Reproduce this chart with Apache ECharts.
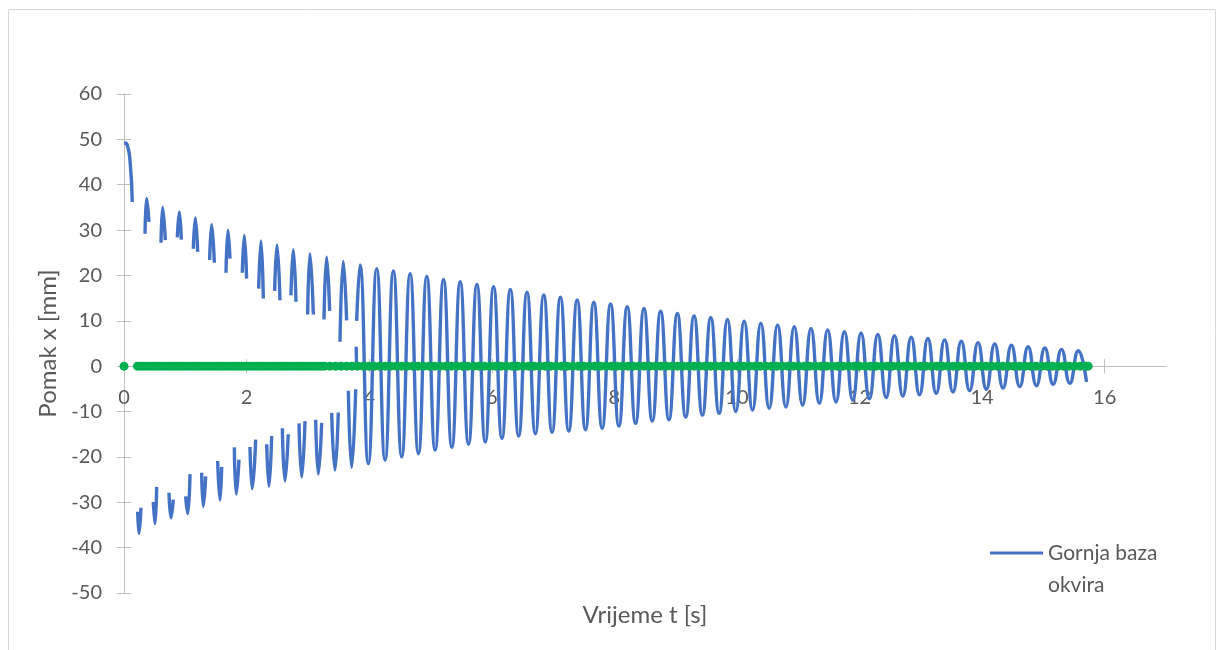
<!DOCTYPE html>
<html>
<head>
<meta charset="utf-8">
<script src="https://cdn.jsdelivr.net/npm/echarts@6/dist/echarts.min.js"></script>
<style>
html,body{margin:0;padding:0;background:#fff;}
#chart{width:1224px;height:650px;}
</style>
</head>
<body>
<div id="chart"></div>
<script>
// ---- data ----
const seriesNames = ['Gornja baza okvira', 'Donja baza okvira'];
const xTicks = [0, 2, 4, 6, 8, 10, 12, 14, 16];

// Blue series: time [s] (null value = gap in the recorded line)
const timeS = [
  0, 0.05, 0.10, 0.135, 0.18,
  0.223, 0.245, 0.277, 0.31,
  0.343, 0.370, 0.408, 0.44,
  0.478, 0.506, 0.533, 0.57,
  0.604, 0.631, 0.674, 0.70,
  0.734, 0.767, 0.804, 0.84,
  0.870, 0.903, 0.935, 0.97,
  1.006, 1.039, 1.077, 1.10,
  1.131, 1.164, 1.202, 1.23,
  1.267, 1.294, 1.333, 1.36,
  1.397, 1.430, 1.474, 1.50,
  1.528, 1.566, 1.594, 1.63,
  1.664, 1.697, 1.729, 1.76,
  1.800, 1.832, 1.876, 1.90,
  1.930, 1.963, 2.000, 2.03,
  2.055, 2.093, 2.148, 2.17,
  2.197, 2.235, 2.273, 2.30,
  2.328, 2.365, 2.409, 2.43,
  2.458, 2.496, 2.545, 2.56,
  2.583, 2.626, 2.680, 2.70,
  2.724, 2.762, 2.806, 2.83,
  2.855, 2.899, 2.953, 2.97,
  2.996, 3.034, 3.089, 3.11,
  3.127, 3.170, 3.225, 3.24,
  3.263, 3.306, 3.355, 3.37,
  3.388, 3.442, 3.496, 3.51,
  3.524, 3.578, 3.632, 3.645,
  3.660, 3.714, 3.780, 3.785,
  3.788, 3.793, 3.794,
  3.796, 3.850, 3.986, 4.123, 4.259, 4.395, 4.531, 4.668, 4.804, 4.940,
  5.076, 5.213, 5.349, 5.485, 5.621, 5.758, 5.894, 6.030, 6.166, 6.303,
  6.439, 6.575, 6.711, 6.848, 6.984, 7.120, 7.256, 7.393, 7.529, 7.665,
  7.801, 7.938, 8.074, 8.210, 8.346, 8.483, 8.619, 8.755, 8.891, 9.028,
  9.164, 9.300, 9.436, 9.573, 9.709, 9.845, 9.981, 10.118, 10.254, 10.390,
  10.526, 10.663, 10.799, 10.935, 11.071, 11.208, 11.344, 11.480, 11.616, 11.753,
  11.889, 12.025, 12.161, 12.298, 12.434, 12.570, 12.706, 12.843, 12.979, 13.115,
  13.251, 13.388, 13.524, 13.660, 13.796, 13.933, 14.069, 14.205, 14.341, 14.478,
  14.614, 14.750, 14.886, 15.023, 15.159, 15.295, 15.431, 15.568, 15.704
];
// Blue series: displacement [mm]
const pomakMM = [
  49.2, 48.9, 45.0, 36.2, null,
  -32.1, -36.9, -31.2, null,
  29.2, 37.0, 31.8, null,
  -29.9, -34.7, -26.6, null,
  27.2, 35.0, 27.8, null,
  -27.9, -33.4, -29.4, null,
  28.4, 34.0, 27.9, null,
  -28.7, -32.5, -23.8, null,
  25.9, 32.7, 25.2, null,
  -23.5, -30.9, -24.3, null,
  23.4, 31.2, 22.8, null,
  -20.9, -29.5, -22.2, null,
  20.6, 30.0, 23.7, null,
  -17.9, -28.2, -20.6, null,
  20.6, 28.8, 19.3, null,
  -17.8, -27.0, -16.2, null,
  17.1, 27.6, 14.9, null,
  -17.2, -26.5, -15.4, null,
  16.6, 26.7, 14.5, null,
  -13.7, -25.3, -15.0, null,
  15.6, 25.7, 14.2, null,
  -12.6, -24.4, -12.1, null,
  11.4, 24.8, 11.4, null,
  -11.8, -23.8, -12.5, null,
  10.3, 24.0, 12.2, null,
  -10.3, -22.9, -10.2, null,
  5.4, 23.1, 10.1, null,
  -5.4, -22.3, -5.1, null,
  4.3, 0.6, null,
  10.0, 22.3, -21.5, 21.5, -20.7, 21.0, -20.0, 20.4, -19.3, 19.8,
  -18.5, 19.1, -17.9, 18.6, -17.2, 18.0, -16.7, 17.5, -15.9, 16.9,
  -15.4, 16.3, -14.9, 15.7, -14.6, 15.2, -14.3, 14.6, -14.0, 14.1,
  -13.7, 13.7, -13.2, 13.1, -12.6, 12.7, -12.1, 12.1, -11.8, 11.6,
  -11.2, 11.1, -10.8, 10.7, -10.4, 10.3, -10.0, 9.9, -9.7, 9.5,
  -9.3, 9.1, -9.0, 8.7, -8.6, 8.3, -8.2, 8.0, -7.9, 7.6,
  -7.5, 7.3, -7.2, 7.0, -6.9, 6.7, -6.6, 6.4, -6.3, 6.1,
  -6.0, 5.8, -5.7, 5.5, -5.4, 5.2, -5.1, 4.9, -4.8, 4.6,
  -4.5, 4.3, -4.3, 4.0, -4.0, 3.7, -3.8, 3.4, -3.5
];

// Green series: sample times [s] (all values 0 mm)
const baseT = [
  0,
  0.22,0.27,0.32,0.37,0.42,0.47,0.52,0.57,0.62,0.67,0.72,0.77,0.82,0.87,0.92,0.97,
  1.02,1.07,1.12,1.17,1.22,1.27,1.32,1.37,1.42,1.47,1.52,1.57,1.62,1.67,1.72,1.77,
  1.82,1.87,1.92,1.97,2.02,2.07,2.12,2.17,2.22,2.27,2.32,2.37,2.42,2.47,2.52,2.57,
  2.62,2.67,2.72,2.77,2.82,2.87,2.92,2.97,3.02,3.07,3.12,3.17,3.22,3.27,
  3.36,3.45,3.54,3.63,3.72,3.81,3.90,3.99,4.08,4.17,4.26,4.35,4.44,4.53,4.62,4.71,
  4.80,4.89,4.98,5.07,5.16,5.25,5.34,5.43,5.52,5.61,5.70,5.79,5.88,5.97,6.06,6.15,
  6.24,6.33,6.42,6.51,6.60,6.69,6.78,6.87,6.96,7.05,7.14,7.23,7.32,7.41,7.50,7.59,
  7.68,7.77,7.86,7.95,8.04,8.13,8.22,8.31,8.40,8.49,8.58,8.67,8.76,8.85,8.94,9.03,
  9.12,9.21,9.30,9.39,9.48,9.57,9.66,9.75,9.84,9.93,10.02,10.11,10.20,10.29,10.38,
  10.47,10.56,10.65,10.74,10.83,10.92,11.01,11.10,11.19,11.28,11.37,11.46,11.55,
  11.64,11.73,11.82,11.91,12.00,12.09,12.18,12.27,12.36,12.45,12.54,12.63,12.72,
  12.81,12.90,12.99,13.08,13.17,13.26,13.35,13.44,13.53,13.62,13.71,13.80,13.89,
  13.98,14.07,14.16,14.25,14.34,14.43,14.52,14.61,14.70,14.79,14.88,14.97,15.06,
  15.15,15.24,15.33,15.42,15.51,15.60,15.69,15.73
];
const baseMM = 0;

// ---- chart ----
const FONT = 'Lato, "Open Sans", sans-serif';
const TXT = '#595959';
const AX = '#BFBFBF';

const blueData = timeS.map((t, i) => [t, pomakMM[i]]);
const greenData = baseT.map(t => [t, baseMM]);

// layout
const GRID = {left: 124, right: 58, top: 94, bottom: 57};
const Y_MIN = -50, Y_MAX = 60;
const plotH = 650 - GRID.top - GRID.bottom;
// the value-axis crosses at y = 0: shift the x axis up from the grid bottom
const X_AXIS_OFFSET = -plotH * (0 - Y_MIN) / (Y_MAX - Y_MIN);

// legend icon: a 53x3 bar placed level with the first text line inside a 53x64 box
const LEGEND_ICON = 'path://M0,0h0.01v0.01h-0.01z M0,14.5h53v3h-53z M52.99,63.99h0.01v0.01h-0.01z';

const chart = echarts.init(document.getElementById('chart'), null, {renderer: 'canvas'});
chart.setOption({
  animation: false,
  backgroundColor: '#ffffff',
  textStyle: {fontFamily: FONT},
  graphic: [{
    type: 'rect', z: -10, silent: true,
    shape: {x: 8.5, y: 9.5, width: 1207, height: 660},
    style: {fill: 'none', stroke: '#D9D9D9', lineWidth: 1}
  }],
  grid: {left: GRID.left, right: GRID.right, top: GRID.top, bottom: GRID.bottom, containLabel: false},
  legend: {
    data: [seriesNames[0]],
    left: 990, top: 537, padding: 0,
    icon: LEGEND_ICON, itemWidth: 53, itemHeight: 64,
    itemStyle: {borderWidth: 0, color: '#4472C4'},
    lineStyle: {width: 0},
    formatter: function () { return 'Gornja baza\nokvira'; },
    textStyle: {fontFamily: FONT, fontSize: 21, color: TXT, lineHeight: 32}
  },
  xAxis: [
    {
      type: 'value', min: 0, max: 17, position: 'bottom', offset: X_AXIS_OFFSET,
      axisLine: {show: true, onZero: false, lineStyle: {color: AX, width: 1}},
      axisTick: {show: true, inside: false, length: 7, customValues: xTicks, lineStyle: {color: AX}},
      axisLabel: {customValues: xTicks, margin: 21, fontSize: 20, color: TXT, fontFamily: FONT},
      splitLine: {show: false}
    },
    {
      type: 'value', min: 0, max: 17, position: 'bottom', offset: X_AXIS_OFFSET,
      axisLine: {show: false, onZero: false},
      axisTick: {show: true, inside: true, length: 7, customValues: xTicks, lineStyle: {color: AX}},
      axisLabel: {show: false},
      splitLine: {show: false}
    },
    {
      type: 'value', min: 0, max: 17, position: 'bottom',
      axisLine: {show: false, onZero: false},
      axisTick: {show: false}, axisLabel: {show: false}, splitLine: {show: false},
      name: 'Vrijeme t [s]', nameLocation: 'middle', nameGap: 10,
      nameTextStyle: {fontSize: 24, color: TXT, fontFamily: FONT}
    }
  ],
  yAxis: [
    {
      type: 'value', min: Y_MIN, max: Y_MAX, interval: 10,
      axisLine: {show: true, onZero: false, lineStyle: {color: AX, width: 1}},
      axisTick: {show: true, inside: false, length: 7, lineStyle: {color: AX}},
      axisLabel: {margin: 22, fontSize: 20, color: TXT, fontFamily: FONT},
      splitLine: {show: false},
      name: 'Pomak x [mm]', nameLocation: 'middle', nameGap: 64,
      nameTextStyle: {fontSize: 24, color: TXT, fontFamily: FONT}
    },
    {
      type: 'value', min: Y_MIN, max: Y_MAX, interval: 10, position: 'left',
      axisLine: {show: false, onZero: false},
      axisTick: {show: true, inside: true, length: 7, lineStyle: {color: AX}},
      axisLabel: {show: false},
      splitLine: {show: false}
    }
  ],
  series: [
    {
      name: seriesNames[0], type: 'line', xAxisIndex: 0, yAxisIndex: 0,
      data: blueData, smooth: 0.5, connectNulls: false,
      showSymbol: false, symbol: 'none',
      lineStyle: {color: '#4472C4', width: 3.4},
      itemStyle: {color: '#4472C4'},
      z: 2
    },
    {
      name: seriesNames[1], type: 'scatter', xAxisIndex: 0, yAxisIndex: 0,
      data: greenData, symbolSize: 9,
      itemStyle: {color: '#00B050', opacity: 1},
      z: 3
    }
  ]
});
</script>
</body>
</html>
